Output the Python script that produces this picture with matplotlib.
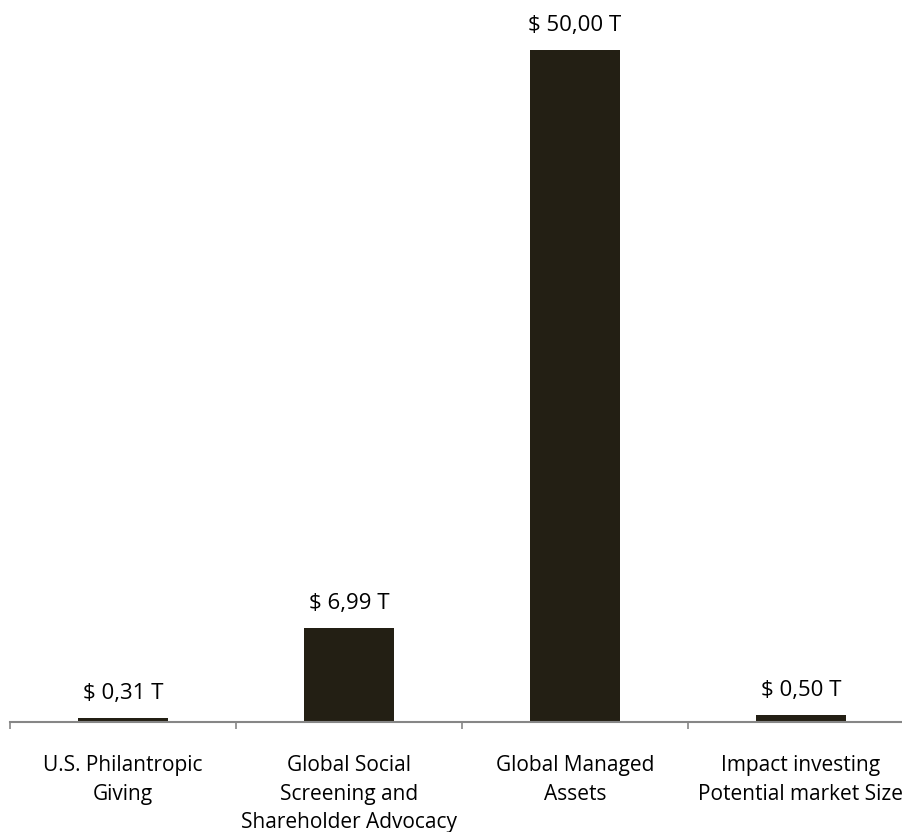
import matplotlib

matplotlib.use("Agg")

import matplotlib.pyplot as plt
import numpy as np

categories = [
    "U.S. Philantropic\nGiving",
    "Global Social\nScreening and\nShareholder Advocacy",
    "Global Managed\nAssets",
    "Impact investing\nPotential market Size",
]
values = [0.31, 6.99, 50.00, 0.50]
value_labels = ["$ 0,31 T", "$ 6,99 T", "$ 50,00 T", "$ 0,50 T"]

plt.rcParams["font.family"] = ["Open Sans", "DejaVu Sans"]

fig = plt.figure(figsize=(9.03, 8.32), dpi=100)
ax = fig.add_axes([10 / 903, 110 / 832, 904 / 903, 672 / 832])

x = np.arange(len(categories))
ax.bar(x, values, width=0.40, color="#231f14")
for xi, v, lab in zip(x, values, value_labels):
    ax.annotate(lab, (xi, v), xytext=(0, 10), textcoords="offset points",
                ha="center", va="bottom", fontsize=16, color="#000000")

ax.set_xlim(-0.5, len(categories) - 0.5)
ax.set_ylim(0, 50)
ax.set_yticks([])
for side in ("top", "right", "left"):
    ax.spines[side].set_visible(False)
ax.spines["bottom"].set_color("#868686")
ax.spines["bottom"].set_linewidth(1.5)

# labels sit at the centres, tick marks at the category boundaries
ax.set_xticks(x)
ax.set_xticklabels(categories, fontsize=15, linespacing=1.47, va="top")
ax.tick_params(axis="x", which="major", length=0, pad=24)
ax.set_xticks(np.arange(-0.5, len(categories), 1.0), minor=True)
ax.tick_params(axis="x", which="minor", length=5, width=1.2, color="#868686")

fig.savefig("out.png", dpi=100)
